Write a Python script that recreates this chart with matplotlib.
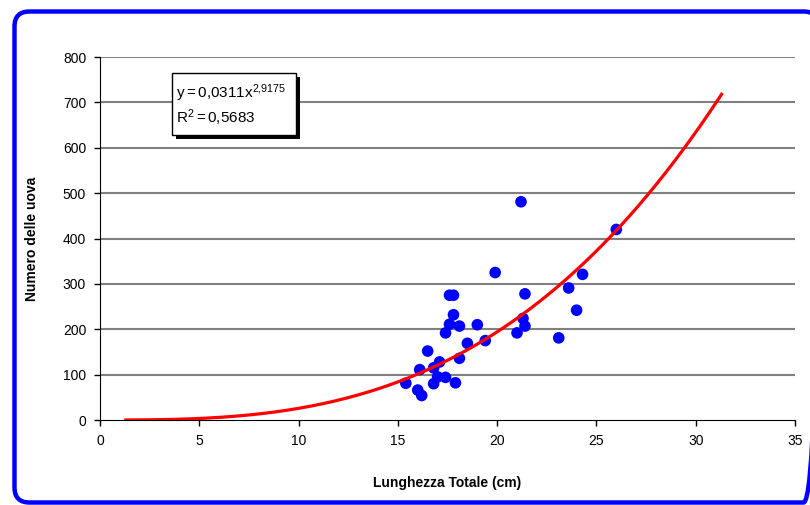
import numpy as np
import matplotlib
matplotlib.use("Agg")
import matplotlib.pyplot as plt
from matplotlib.patches import FancyBboxPatch, Rectangle

# Data
lunghezza = [21.2, 26.0, 19.9, 24.3, 23.6, 17.6, 17.8, 21.4, 24.0, 17.8,
             17.6, 18.1, 19.0, 21.3, 21.4, 21.0, 17.4, 23.1, 18.5, 19.4,
             16.5, 18.1, 17.1, 16.8, 16.1, 17.0, 17.4, 16.8, 17.9, 15.4,
             16.0, 16.2]
uova = [481, 420, 325, 321, 291, 275, 275, 278, 242, 232,
        211, 207, 210, 224, 207, 192, 192, 181, 169, 175,
        152, 136, 128, 115, 111, 95, 94, 80, 82, 81,
        66, 54]

# Power trendline shown on the chart: y = a * x^b
coef_a = 0.0311
coef_b = 2.9175
trend_x_start = 1.3
trend_x_end = 31.3

xticks = [0, 5, 10, 15, 20, 25, 30, 35]
yticks = [0, 100, 200, 300, 400, 500, 600, 700, 800]

plt.rcParams['font.family'] = ['Liberation Sans', 'DejaVu Sans']
plt.rcParams['mathtext.fontset'] = 'custom'
plt.rcParams['mathtext.rm'] = 'Liberation Sans'
plt.rcParams['mathtext.it'] = 'Liberation Sans'

fig = plt.figure(figsize=(8.10, 5.05), dpi=100)

# overlay in pixel coordinates for frame and equation box
ov = fig.add_axes([0, 0, 1, 1], zorder=10)
ov.set_xlim(0, 810)
ov.set_ylim(505, 0)
ov.axis('off')
ov.patch.set_alpha(0)

ax = fig.add_axes([0.1235, 0.1683, 0.858, 0.7188])

ax.set_xlim(0, 35)
ax.set_ylim(0, 800)
ax.set_yticks(yticks)
ax.set_xticks(xticks)
ax.set_yticklabels([str(v) for v in yticks], fontsize=10)
ax.set_xticklabels([str(v) for v in xticks], fontsize=10)

for y in yticks[1:]:
    ax.axhline(y, color='#808080', lw=1.5, zorder=1)

for s in ['top', 'right']:
    ax.spines[s].set_visible(False)
ax.spines['left'].set_color('black')
ax.spines['bottom'].set_color('black')
ax.tick_params(direction='out', length=4, width=1, colors='black', pad=6)

ax.scatter(lunghezza, uova, s=70, color='#0000FF', zorder=3, edgecolors='none')

tx = np.linspace(trend_x_start, trend_x_end, 200)
ty = coef_a * tx ** coef_b
ax.plot(tx, ty, color='#FF0000', lw=2.3, zorder=4)

ax.set_xlabel('Lunghezza Totale (cm)', fontsize=10, fontweight='bold', labelpad=20)
ax.set_ylabel('Numero delle uova', fontsize=10, fontweight='bold', labelpad=17)

# Equation box with shadow
bx, by, bw, bh = 172, 73, 124, 62
ov.add_patch(Rectangle((bx + 4, by + 4), bw, bh, facecolor='black', edgecolor='none'))
ov.add_patch(Rectangle((bx, by), bw, bh, facecolor='white', edgecolor='black', lw=1))
ov.text(bx + 4, by + 20, r'$\mathregular{y = 0{,}0311x^{2{,}9175}}$', fontsize=11,
        va='center', ha='left')
ov.text(bx + 4, by + 45, r'$\mathregular{R^{2} = 0{,}5683}$', fontsize=11,
        va='center', ha='left')

# Blue rounded frame
ov.add_patch(FancyBboxPatch((14.5, 11.5), 804, 491,
                            boxstyle='round,pad=0,rounding_size=15',
                            facecolor='none', edgecolor='#0000FF', lw=3.2, clip_on=False))

fig.savefig('out.png', dpi=100)
